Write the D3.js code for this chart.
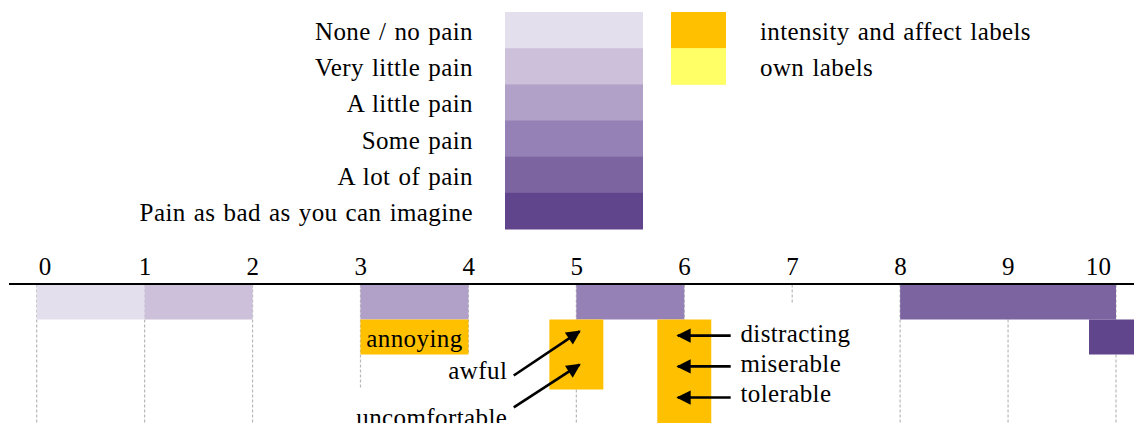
<!DOCTYPE html>
<html>
<head>
<meta charset="utf-8">
<script src="https://cdn.jsdelivr.net/npm/d3@7.9.0/dist/d3.min.js"></script>
<style>
  body { margin: 0; background: #fff; }
  svg { display: block; font-family: "Liberation Serif", "Times New Roman", serif; }
  text { font-size: 25px; fill: #000; letter-spacing: 0.4px; word-spacing: 1.5px; }
</style>
</head>
<body>
<svg id="chart" width="1134" height="423"></svg>
<script>
// pain scale legend
const painLevels = ["None / no pain", "Very little pain", "A little pain", "Some pain", "A lot of pain", "Pain as bad as you can imagine"];
const painColors = ["#e4dfec", "#ccc0da", "#b1a0c7", "#9581b5", "#7b64a0", "#60458d"];

// label type legend
const labelTypes = ["intensity and affect labels", "own labels"];
const labelColors = ["#ffc000", "#ffff66"];

// scale ticks
const ticks = [0, 1, 2, 3, 4, 5, 6, 7, 8, 9, 10];
// how far down each dashed line runs (in rows)
const tickDrop = [4, 4, 4, 3, 2, 4, 4, 0.57, 4, 4, 4];

// intensity bars: pain level index, start, end, row
const painBars = [
  { level: 0, from: 0, to: 1, row: 0 },
  { level: 1, from: 1, to: 2, row: 0 },
  { level: 2, from: 3, to: 4, row: 0 },
  { level: 3, from: 5, to: 6, row: 0 },
  { level: 4, from: 8, to: 10, row: 0 },
  { level: 5, from: 9.75, to: 10.25, row: 1 }
];

// word boxes: type index, start, end, first row, rows
const wordBoxes = [
  { type: 0, from: 3, to: 4, row: 1, rows: 1, text: "annoying" },
  { type: 0, from: 4.75, to: 5.25, row: 1, rows: 2, text: "" },
  { type: 0, from: 5.75, to: 6.25, row: 1, rows: 3, text: "" }
];

// arrow labels
const arrowLabels = [
  { text: "awful", side: "left", tx: 4.36, ty: 2.69, x0: 4.42, y0: 2.6, x1: 5.03, y1: 1.34 },
  { text: "uncomfortable", side: "left", tx: 4.36, ty: 4.03, x0: 4.42, y0: 3.51, x1: 5.03, y1: 2.29 },
  { text: "distracting", side: "right", tx: 6.52, ty: 1.63, x0: 6.43, y0: 1.46, x1: 5.94, y1: 1.46 },
  { text: "miserable", side: "right", tx: 6.52, ty: 2.51, x0: 6.43, y0: 2.34, x1: 5.94, y1: 2.34 },
  { text: "tolerable", side: "right", tx: 6.52, ty: 3.37, x0: 6.43, y0: 3.23, x1: 5.94, y1: 3.23 }
];

const svg = d3.select("#chart");

const x = d3.scaleLinear().domain([0, 10]).range([36.7, 1116]);
const y = d3.scaleLinear().domain([0, 4]).range([284.5, 424.5]);

// ---- legends ----
const legY = d3.scaleBand().domain(d3.range(painLevels.length)).range([12, 229]);

svg.append("g").selectAll("rect")
  .data(painLevels)
  .join("rect")
  .attr("x", 505).attr("width", 138)
  .attr("y", (d, i) => legY(i)).attr("height", legY.bandwidth() + 0.5)
  .attr("fill", (d, i) => painColors[i]);

svg.append("g").selectAll("text")
  .data(painLevels)
  .join("text")
  .attr("x", 473)
  .attr("y", (d, i) => legY(i) + legY.bandwidth() / 2 + 10)
  .attr("text-anchor", "end")
  .text(d => d);

svg.append("g").selectAll("rect")
  .data(labelTypes)
  .join("rect")
  .attr("x", 671).attr("width", 55)
  .attr("y", (d, i) => legY(i)).attr("height", legY.bandwidth() + 0.5)
  .attr("fill", (d, i) => labelColors[i]);

svg.append("g").selectAll("text")
  .data(labelTypes)
  .join("text")
  .attr("x", 760)
  .attr("y", (d, i) => legY(i) + legY.bandwidth() / 2 + 10)
  .text(d => d);

// ---- dashed drop lines ----
svg.append("g").selectAll("line")
  .data(ticks)
  .join("line")
  .attr("x1", d => x(d)).attr("x2", d => x(d))
  .attr("y1", y(0)).attr("y2", (d, i) => y(tickDrop[i]))
  .attr("stroke", "#b8b8b8")
  .attr("stroke-width", 1.2)
  .attr("stroke-dasharray", "3,2");

// ---- pain bars ----
svg.append("g").selectAll("rect")
  .data(painBars)
  .join("rect")
  .attr("x", d => x(d.from))
  .attr("width", d => x(d.to) - x(d.from))
  .attr("y", d => y(d.row))
  .attr("height", d => y(d.row + 1) - y(d.row))
  .attr("fill", d => painColors[d.level]);

// ---- word boxes ----
svg.append("g").selectAll("rect")
  .data(wordBoxes)
  .join("rect")
  .attr("x", d => x(d.from))
  .attr("width", d => x(d.to) - x(d.from))
  .attr("y", d => y(d.row))
  .attr("height", d => y(d.row + d.rows) - y(d.row))
  .attr("fill", d => labelColors[d.type]);

svg.append("g").selectAll("text")
  .data(wordBoxes.filter(d => d.text))
  .join("text")
  .attr("x", d => (x(d.from) + x(d.to)) / 2)
  .attr("y", d => y(d.row) + 27)
  .attr("text-anchor", "middle")
  .text(d => d.text);

// ---- arrows ----
svg.append("defs").append("marker")
  .attr("id", "head")
  .attr("viewBox", "0 0 10 10")
  .attr("refX", 9).attr("refY", 5)
  .attr("markerWidth", 6).attr("markerHeight", 5.5)
  .attr("markerUnits", "strokeWidth")
  .attr("orient", "auto")
  .append("path")
  .attr("d", "M0,0L10,5L0,10Z")
  .attr("fill", "#000");

svg.append("g").selectAll("line")
  .data(arrowLabels)
  .join("line")
  .attr("x1", d => x(d.x0)).attr("y1", d => y(d.y0))
  .attr("x2", d => x(d.x1)).attr("y2", d => y(d.y1))
  .attr("stroke", "#000")
  .attr("stroke-width", 2.6)
  .attr("marker-end", "url(#head)");

svg.append("g").selectAll("text")
  .data(arrowLabels)
  .join("text")
  .attr("x", d => x(d.tx))
  .attr("y", d => y(d.ty))
  .attr("text-anchor", d => d.side === "left" ? "end" : "start")
  .text(d => d.text);

// ---- axis ----
svg.append("line")
  .attr("x1", 9).attr("x2", 1134)
  .attr("y1", 284).attr("y2", 284)
  .attr("stroke", "#000").attr("stroke-width", 2);

const axis = svg.append("g")
  .attr("transform", "translate(0,284)")
  .call(d3.axisTop(x).tickValues(ticks).tickSize(0).tickPadding(9).tickFormat(d3.format("d")));
axis.select(".domain").remove();
axis.selectAll("text")
  .attr("font-family", "Liberation Serif, Times New Roman, serif")
  .attr("font-size", 25)
  .attr("fill", "#000");
// end labels are nudged inward, as in the original
axis.selectAll(".tick text")
  .filter(d => d === 0).attr("text-anchor", "start").attr("dx", 1.5);
axis.selectAll(".tick text")
  .filter(d => d === 10).attr("text-anchor", "end").attr("dx", -5);
</script>
</body>
</html>
